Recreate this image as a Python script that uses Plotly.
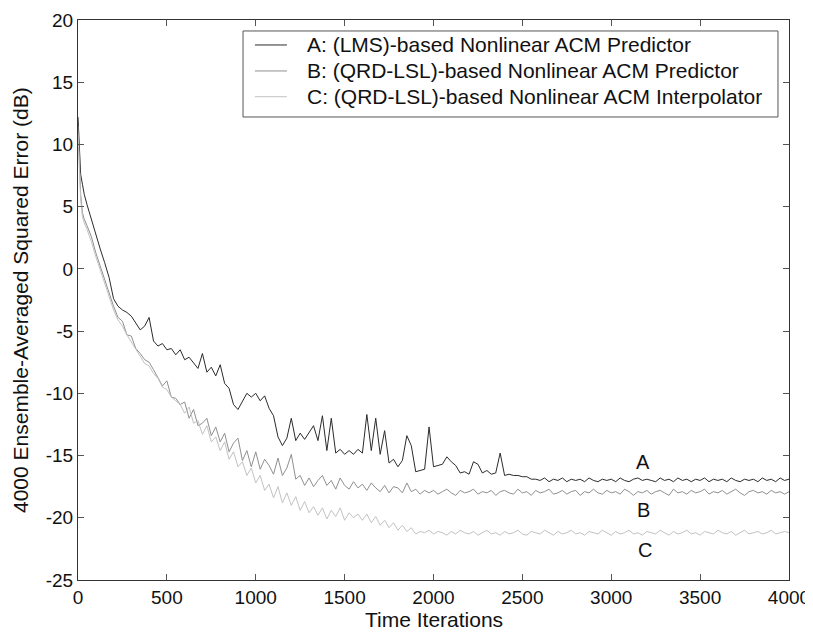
import plotly.graph_objects as go

# Iteration grid (dense at the start where the curves fall fast)
iterations = [0, 5, 10, 15, 25, 35, 50, 75, 100, 125, 150, 175] + list(range(200, 4001, 25))

a_early = [12.2, 10.5, 8.5, 7.6, 6.8, 6.0, 5.2, 4.0, 2.6, 1.6, 0.5, -0.7]
b_early = [11.5, 9.0, 7.5, 6.0, 4.5, 4.0, 3.5, 2.6, 1.3, 0.2, -0.8, -1.9]
c_early = [10.8, 8.5, 7.0, 5.6, 4.2, 3.7, 3.2, 2.2, 1.0, -0.1, -1.2, -2.2]

a_main = [
    -2.4, -3.0, -3.3, -3.5, -3.8, -4.3, -4.9, -4.6,
    -3.9, -5.8, -6.2, -6.0, -6.5, -6.4, -6.9, -6.5,
    -7.3, -7.1, -7.6, -8.0, -6.8, -8.3, -7.9, -8.6,
    -7.7, -9.2, -9.6, -10.9, -11.3, -10.6, -10.0, -10.3,
    -10.0, -10.6, -10.2, -11.2, -11.8, -13.5, -14.2, -13.6,
    -12.0, -13.8, -13.2, -13.7, -13.2, -12.6, -13.8, -11.8,
    -14.6, -12.0, -14.8, -14.5, -14.9, -14.6, -14.9, -14.5,
    -14.8, -11.7, -14.6, -12.0, -14.9, -13.0, -15.6, -15.3,
    -15.9, -15.4, -13.4, -14.2, -16.3, -16.2, -16.1, -12.7,
    -15.9, -15.8, -15.7, -15.1, -15.5, -15.8, -16.4, -16.3,
    -16.5, -15.5, -15.7, -16.4, -16.2, -16.5, -16.4, -14.8,
    -16.6, -16.5, -16.6, -16.6, -16.7, -16.7, -16.9, -16.9,
    -17.0, -16.8, -17.1, -16.9, -17.0, -16.8, -17.1, -16.9,
    -17.0, -16.9, -17.1, -16.8, -17.0, -17.1, -16.9, -17.0,
    -16.9, -17.1, -16.8, -17.0, -17.1, -16.9, -16.8, -17.0,
    -16.9, -17.0, -17.1, -16.8, -17.0, -16.9, -17.1, -16.8,
    -17.0, -16.9, -17.1, -16.9, -17.0, -16.8, -17.1, -16.9,
    -17.0, -16.9, -17.1, -16.8, -17.0, -17.1, -16.9, -17.0,
    -16.9, -17.1, -16.8, -17.0, -16.9, -17.1, -16.8, -17.0,
    -16.9,
]

b_main = [
    -3.0, -3.9, -4.2, -5.3, -5.4, -6.4, -6.8, -7.3,
    -7.5, -8.1, -8.7, -9.4, -9.0, -10.3, -10.4, -10.9,
    -10.7, -12.0, -11.3, -12.6, -12.4, -12.0, -13.4, -12.7,
    -13.9, -13.2, -14.7, -14.0, -13.6, -15.4, -14.6, -15.9,
    -14.7, -16.1, -15.3, -15.8, -16.5, -15.2, -16.6, -16.0,
    -14.9, -16.9, -16.6, -17.4, -16.8, -17.5, -17.0, -16.6,
    -17.4, -17.0, -17.7, -16.8, -17.4, -17.7, -17.1, -17.6,
    -17.3, -17.8, -17.2, -17.6, -17.9, -17.4, -18.0, -17.5,
    -17.6, -18.0, -17.2, -17.9, -17.7, -18.1, -17.8, -18.0,
    -17.8, -18.1, -17.9, -17.7, -18.0, -18.2, -17.8, -18.0,
    -17.9, -17.7, -18.1, -17.9, -18.0, -17.8, -18.2, -17.9,
    -17.8, -18.0, -18.1, -17.7, -18.0, -17.9, -18.2, -17.8,
    -18.0, -17.9, -17.7, -18.1, -18.0, -17.8, -18.1, -17.9,
    -17.8, -18.2, -17.9, -18.0, -17.7, -18.0, -18.1, -17.8,
    -18.0, -17.9, -18.1, -17.7, -17.9, -18.2, -17.9, -18.0,
    -17.8, -18.1, -17.9, -17.8, -18.0, -18.2, -17.7, -18.0,
    -17.9, -18.1, -17.8, -18.0, -17.9, -17.7, -18.1, -17.9,
    -18.0, -17.8, -18.1, -17.9, -17.7, -18.0, -18.2, -17.9,
    -17.8, -18.0, -17.9, -18.1, -17.8, -18.0, -17.9, -18.1,
    -17.9,
]

c_main = [
    -3.3, -4.1, -4.6, -5.3, -5.9, -6.5, -7.0, -7.6,
    -7.8, -8.4, -8.8, -9.5, -9.7, -10.3, -10.6, -10.9,
    -11.6, -11.1, -12.4, -12.2, -13.3, -12.6, -13.9, -13.5,
    -14.6, -13.9, -15.3, -14.7, -15.9, -15.5, -16.6, -16.0,
    -17.2, -16.6, -17.8, -17.3, -18.4, -17.5, -18.8, -18.0,
    -19.0, -18.3, -19.4, -18.7, -19.6, -19.1, -19.8, -19.2,
    -20.1, -19.4, -19.9, -19.2, -20.2, -19.6, -20.0, -19.7,
    -20.2, -19.7, -20.4, -19.9, -20.6, -20.2, -20.8, -20.4,
    -21.0, -20.6, -21.1, -20.8, -21.3, -21.1, -21.2, -21.0,
    -21.3, -21.1, -21.2, -21.4, -21.1, -21.3, -21.0, -21.2,
    -21.3, -21.1, -21.4, -21.2, -21.0, -21.3, -21.2, -21.4,
    -21.1, -21.3, -21.2, -21.0, -21.3, -21.4, -21.1, -21.2,
    -21.3, -21.0, -21.2, -21.4, -21.1, -21.3, -21.2, -21.0,
    -21.3, -21.2, -21.4, -21.1, -21.2, -21.3, -21.0, -21.2,
    -21.4, -21.1, -21.3, -21.2, -21.0, -21.3, -21.2, -21.4,
    -21.1, -21.2, -21.3, -21.0, -21.2, -21.4, -21.1, -21.3,
    -21.2, -21.0, -21.3, -21.2, -21.4, -21.1, -21.2, -21.3,
    -21.0, -21.2, -21.3, -21.1, -21.4, -21.2, -21.0, -21.3,
    -21.2, -21.1, -21.3, -21.2, -21.0, -21.3, -21.2, -21.1,
    -21.2,
]

series_a = a_early + a_main
series_b = b_early + b_main
series_c = c_early + c_main

legend_names = [
    "A: (LMS)-based Nonlinear ACM Predictor",
    "B: (QRD-LSL)-based Nonlinear ACM Predictor",
    "C: (QRD-LSL)-based Nonlinear ACM Interpolator",
]
curve_labels = ["A", "B", "C"]
label_x = [3180, 3180, 3190]
label_y = [-15.5, -19.35, -22.55]

x_ticks = [0, 500, 1000, 1500, 2000, 2500, 3000, 3500, 4000]
y_ticks = [-25, -20, -15, -10, -5, 0, 5, 10, 15, 20]
y_tick_text = [str(v) for v in y_ticks]
x_tick_text = [str(v) for v in x_ticks]

FONT = "Liberation Sans, Arial, sans-serif"
colors = ["#2b2b2b", "#8f8f8f", "#c2c2c2"]
series = [series_a, series_b, series_c]

fig = go.Figure()
for name, ys, col in zip(legend_names, series, colors):
    fig.add_trace(go.Scatter(x=iterations, y=ys, mode="lines", name=name,
                             line=dict(color=col, width=1), showlegend=False))

for t, xx, yy in zip(curve_labels, label_x, label_y):
    fig.add_annotation(x=xx, y=yy, text=t, showarrow=False,
                       font=dict(family=FONT, size=20, color="#111"))

# Legend box drawn in paper coordinates (matches the reference box)
box_x0, box_x1 = 0.2321, 0.9845
box_y0, box_y1 = 0.8268, 0.9804
row_y = [0.9554, 0.9090, 0.8630]
sample_x0, sample_x1 = 0.2489, 0.2939
text_x = 0.3193

fig.add_shape(type="rect", xref="paper", yref="paper",
              x0=box_x0, x1=box_x1, y0=box_y0, y1=box_y1,
              line=dict(color="#555", width=1), fillcolor="white", layer="above")
for name, col, ry in zip(legend_names, colors, row_y):
    fig.add_shape(type="line", xref="paper", yref="paper",
                  x0=sample_x0, x1=sample_x1, y0=ry, y1=ry,
                  line=dict(color=col, width=1), layer="above")
    fig.add_annotation(xref="paper", yref="paper", x=text_x, y=ry, text=name,
                       showarrow=False, xanchor="left", yanchor="middle",
                       font=dict(family=FONT, size=21, color="#111"))

# Axis titles as annotations so the plot box keeps the reference position
fig.add_annotation(xref="paper", yref="paper", x=0.5, y=0, yshift=-39,
                   text="Time Iterations", showarrow=False,
                   xanchor="center", yanchor="middle",
                   font=dict(family=FONT, size=21, color="#111"))
fig.add_annotation(xref="paper", yref="paper", x=0, xshift=-58, y=0.5,
                   text="4000 Ensemble-Averaged Squared Error (dB)", showarrow=False,
                   textangle=-90, xanchor="center", yanchor="middle",
                   font=dict(family=FONT, size=21, color="#111"))

axis_common = dict(showgrid=False, zeroline=False, showline=True, linecolor="#333",
                   linewidth=1, mirror="ticks", ticks="inside", ticklen=6,
                   tickcolor="#555", automargin=False,
                   tickfont=dict(family=FONT, size=19, color="#111"))

# The page adds an 8 px body margin, so the figure is 8 px smaller and
# its margins 8 px tighter on the top/left to keep the reference plot box.
fig.update_layout(
    width=805, height=625,
    margin=dict(l=70, r=24, t=12, b=53),
    paper_bgcolor="white", plot_bgcolor="white",
    font=dict(family=FONT, color="#111"),
    xaxis=dict(range=[0, 4000], tickvals=x_ticks, ticktext=x_tick_text, **axis_common),
    yaxis=dict(range=[-25, 20], tickvals=y_ticks, ticktext=y_tick_text, **axis_common),
    showlegend=False,
)

fig.write_html("out.html")
